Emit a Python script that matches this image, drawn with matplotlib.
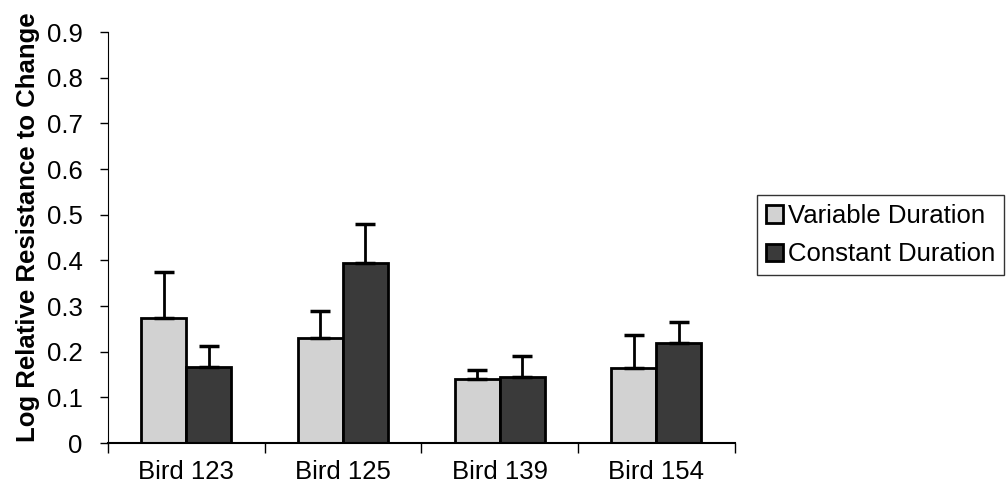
import numpy as np
import matplotlib
matplotlib.use("Agg")
import matplotlib.pyplot as plt

birds = ["Bird 123", "Bird 125", "Bird 139", "Bird 154"]
variable = [0.275, 0.23, 0.14, 0.165]
variable_err = [0.10, 0.06, 0.02, 0.072]
constant = [0.166, 0.395, 0.145, 0.22]
constant_err = [0.046, 0.085, 0.046, 0.046]

plt.rcParams['font.family'] = ['Liberation Sans', 'DejaVu Sans']

fig = plt.figure(figsize=(10.08, 4.94), dpi=100)
ax = fig.add_axes([0.107, 0.103, 0.622, 0.832])

x = np.arange(len(birds))
w = 0.287
ekw = dict(elinewidth=2, capthick=2.5, ecolor='black')
ax.bar(x - w/2, variable, w, color='#d2d2d2', edgecolor='black', linewidth=2,
       yerr=[np.zeros(len(birds)), variable_err], capsize=7, error_kw=ekw,
       label='Variable Duration')
ax.bar(x + w/2, constant, w, color='#3a3a3a', edgecolor='black', linewidth=2,
       yerr=[np.zeros(len(birds)), constant_err], capsize=7, error_kw=ekw,
       label='Constant Duration')

ax.set_xlim(-0.5, len(birds) - 0.5)
ax.set_ylim(0, 0.9)
ax.set_yticks(np.arange(0, 0.91, 0.1))
ax.set_yticklabels(['0'] + ['%.1f' % v for v in np.arange(0.1, 0.91, 0.1)], fontsize=18.5)
ax.set_xticks(np.arange(-0.5, len(birds)), labels=[''] * (len(birds) + 1))
ax.set_xticks(x, labels=birds, minor=True)
ax.tick_params(axis='x', which='major', direction='out', length=7, width=1)
ax.tick_params(axis='x', which='minor', length=0, pad=12, labelsize=18.5)
ax.tick_params(axis='y', direction='out', length=6, width=1, pad=12)
ax.spines['top'].set_visible(False)
ax.spines['right'].set_visible(False)
ax.spines['bottom'].set_linewidth(1.5)
ax.set_ylabel('Log Relative Resistance to Change', fontsize=18.5, fontweight='bold')
ax.yaxis.set_label_coords(-0.108, 0.525)

leg = fig.legend(loc='upper left', bbox_to_anchor=(757/1008, 1 - 195/494),
                 bbox_transform=fig.transFigure, fontsize=18.5, frameon=True,
                 fancybox=False, edgecolor='black', handlelength=0.65,
                 handleheight=0.65, handletextpad=0.2, borderpad=0.35,
                 labelspacing=0.55, borderaxespad=0)
leg.get_frame().set_linewidth(1)

fig.savefig('out.png', dpi=100)
